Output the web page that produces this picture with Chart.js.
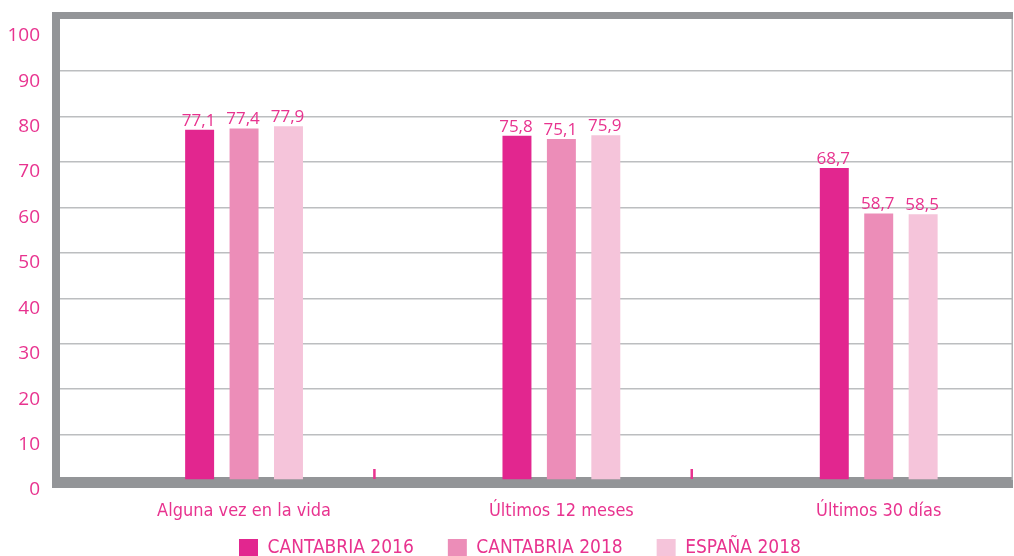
<!DOCTYPE html>
<html>
<head>
<meta charset="utf-8">
<script src="https://cdn.jsdelivr.net/npm/chart.js@4"></script>
<style>
  html, body { margin: 0; padding: 0; overflow: hidden; background: #fff; }
  #wrap { position: relative; width: 1014px; height: 594px; }
</style>
</head>
<body>
<div id="wrap"><canvas id="chart"></canvas></div>
<script>
// categories and series
var categories = ["Alguna vez en la vida", "Últimos 12 meses", "Últimos 30 días"];
var seriesNames = ["CANTABRIA 2016", "CANTABRIA 2018", "ESPAÑA 2018"];
var cantabria2016 = [77.1, 75.8, 68.7];
var cantabria2018 = [77.4, 75.1, 58.7];
var espana2018 = [77.9, 75.9, 58.5];

var barColors = ["#e2268f", "#ec8db8", "#f5c4da"];
var pink = "#e8338f";
var narrow = '"DejaVu Sans Condensed", "Liberation Sans Narrow", sans-serif';

function points(values) {
  return values.map(function (v, i) { return { x: i, y: v }; });
}

// gray frame round the plot, drawn under the bars
var frame = {
  id: "frame",
  afterLayout: function (chart) {
    // pull the legend up closer to the axis labels
    chart.legend.top -= 25;
    chart.legend.bottom -= 25;
    chart.legend.left += 10;
    chart.legend.right += 10;
  },
  beforeDatasetsDraw: function (chart) {
    var ctx = chart.ctx, ca = chart.chartArea;
    ctx.save();
    ctx.fillStyle = "#939598";
    ctx.fillRect(ca.left - 8, ca.top - 7, ca.right - ca.left + 9, 7);   // top
    ctx.fillRect(ca.left - 8, ca.top - 7, 8, ca.bottom - ca.top + 15);  // left
    ctx.fillRect(ca.left - 8, ca.bottom - 3, ca.right - ca.left + 9, 11); // bottom
    ctx.fillStyle = "#b1b3b6";
    ctx.fillRect(ca.right - 0.5, ca.top, 1.5, ca.bottom - ca.top);       // right
    ctx.restore();
  }
};

// value labels + small magenta separators
var valueLabels = {
  id: "valueLabels",
  afterDatasetsDraw: function (chart) {
    var ctx = chart.ctx, ca = chart.chartArea;
    var xs = chart.scales.x;
    ctx.save();
    ctx.fillStyle = pink;
    for (var k = 0; k < categories.length - 1; k++) {
      var px = xs.getPixelForValue(k + 0.41);
      ctx.fillRect(px - 1, ca.bottom - 11, 2.5, 10);
    }
    ctx.font = '17px "Open Sans"';
    ctx.textAlign = "center";
    ctx.textBaseline = "alphabetic";
    chart.data.datasets.forEach(function (ds, i) {
      chart.getDatasetMeta(i).data.forEach(function (bar, j) {
        ctx.fillText(ds.data[j].y.toFixed(1).replace(".", ","), bar.x - 1, bar.y - 4);
      });
    });
    ctx.restore();
  }
};

var chart = new Chart(document.getElementById("chart"), {
  type: "bar",
  data: {
    datasets: [
      { label: seriesNames[0], data: points(cantabria2016), backgroundColor: barColors[0] },
      { label: seriesNames[1], data: points(cantabria2018), backgroundColor: barColors[1] },
      { label: seriesNames[2], data: points(espana2018), backgroundColor: barColors[2] }
    ]
  },
  options: {
    responsive: true,
    maintainAspectRatio: false,
    animation: false,
    categoryPercentage: 0.42,
    barPercentage: 0.652,
    layout: { padding: { left: 8, top: 19, right: 2, bottom: 1 } },
    plugins: {
      tooltip: { enabled: false },
      legend: {
        position: "bottom",
        labels: {
          boxWidth: 19,
          boxHeight: 19,
          padding: 34,
          color: pink,
          font: { family: narrow, size: 19 }
        }
      }
    },
    scales: {
      x: {
        type: "linear",
        offset: false,
        min: -0.58,
        max: 2.42,
        grid: { display: false, offset: false },
        border: { display: false },
        afterBuildTicks: function (s) {
          s.ticks = categories.map(function (c, i) { return { value: i }; });
        },
        afterFit: function (s) { s.height = 50; },
        ticks: {
          autoSkip: false,
          maxRotation: 0,
          padding: 13,
          color: pink,
          font: { family: narrow, size: 18 },
          callback: function (v) { return categories[v]; }
        }
      },
      y: {
        min: 0,
        max: 101.5,
        border: { display: false },
        afterFit: function (s) { s.width = 52; s.paddingTop = 0; s.paddingBottom = 0; },
        grid: {
          drawTicks: false,
          lineWidth: 1.5,
          color: function (c) {
            return (c.tick && (c.tick.value === 0 || c.tick.value === 100)) ? "rgba(0,0,0,0)" : "#bcbec0";
          }
        },
        ticks: {
          stepSize: 10,
          includeBounds: false,
          labelOffset: 10,
          padding: 20,
          color: pink,
          font: { family: '"Open Sans", sans-serif', size: 19 }
        }
      }
    }
  },
  plugins: [frame, valueLabels]
});
</script>
</body>
</html>
